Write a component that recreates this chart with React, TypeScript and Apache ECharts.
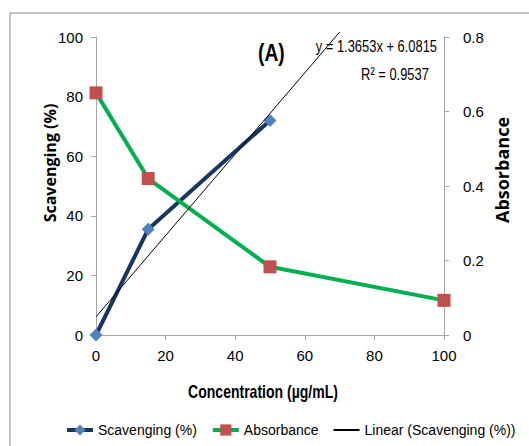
import React, { useEffect, useRef } from "react";
import * as echarts from "echarts";

const concentration = [0, 15, 50, 100];
const scavenging = [0, 35.5, 72];
const absorbance = [0.65, 0.42, 0.183, 0.093];
const trendX = [0, 70];
const trendY = [6.08, 101.65];
const xTicks = { min: 0, max: 100, interval: 20 };
const leftTicks = { min: 0, max: 100, interval: 20 };
const rightTicks = { min: 0, max: 0.8, interval: 0.2 };

const SANS = "'Liberation Sans', Arial, sans-serif";

export default function App() {
  const ref = useRef<HTMLDivElement>(null);
  useEffect(() => {
    if (!ref.current) return;
    const chart = echarts.init(ref.current, null, { renderer: "svg" });
    const axisLine = { show: true, lineStyle: { color: "#A6A6A6", width: 1 } };
    const axisTick = { show: true, inside: false, length: 5, lineStyle: { color: "#A6A6A6" } };
    const labelStyle = { color: "#000", fontFamily: SANS, fontSize: 15 };
    chart.setOption({
      animation: false,
      backgroundColor: "#fff",
      grid: { left: 96, right: 85, top: 37, bottom: 111, containLabel: false },
      xAxis: {
        type: "value",
        ...xTicks,
        axisLine,
        axisTick,
        splitLine: { show: false },
        axisLabel: { ...labelStyle, margin: 13 },
      },
      yAxis: [
        {
          type: "value",
          ...leftTicks,
          axisLine,
          axisTick,
          splitLine: { show: false },
          axisLabel: { ...labelStyle, margin: 13 },
        },
        {
          type: "value",
          ...rightTicks,
          position: "right",
          axisLine,
          axisTick,
          splitLine: { show: false },
          axisLabel: { ...labelStyle, margin: 19 },
        },
      ],
      legend: {
        bottom: 4,
        left: 60,
        itemWidth: 26,
        itemHeight: 14,
        itemGap: 14,
        textStyle: { color: "#000", fontFamily: SANS, fontSize: 14 },
        data: [
          { name: "Scavenging (%)", lineStyle: { width: 4 } },
          { name: "Absorbance", lineStyle: { width: 4 } },
          { name: "Linear (Scavenging (%))" },
        ],
      },
      graphic: [
        {
          type: "rect",
          shape: { x: 10, y: 13, width: 540, height: 460 },
          style: { fill: "none", stroke: "#888", lineWidth: 1 },
          silent: true,
        },
        {
          type: "text",
          x: 258,
          y: 53,
          scaleX: 0.8,
          style: { text: "(A)", fontFamily: SANS, fontSize: 24, fontWeight: "bold", fill: "#000", align: "left", verticalAlign: "middle" },
        },
        {
          type: "text",
          x: 437,
          y: 46,
          scaleX: 0.76,
          style: { text: "y = 1.3653x + 6.0815", fontFamily: SANS, fontSize: 17, fill: "#000", align: "right", verticalAlign: "middle" },
        },
        {
          type: "text",
          x: 395,
          y: 74,
          scaleX: 0.76,
          style: { text: "R² = 0.9537", fontFamily: SANS, fontSize: 17, fill: "#000", align: "center", verticalAlign: "middle" },
        },
        {
          type: "text",
          x: 263,
          y: 391,
          scaleX: 0.78,
          style: { text: "Concentration (µg/mL)", fontFamily: SANS, fontSize: 18, fontWeight: "bold", fill: "#000", align: "center", verticalAlign: "middle" },
        },
        {
          type: "text",
          x: 50,
          y: 163,
          rotation: Math.PI / 2,
          style: { text: "Scavenging (%)", fontFamily: "'Open Sans', sans-serif", fontSize: 16, fontWeight: "bold", fill: "#000", align: "center", verticalAlign: "middle" },
        },
        {
          type: "text",
          x: 502,
          y: 170,
          rotation: Math.PI / 2,
          style: { text: "Absorbance", fontFamily: "'Open Sans', sans-serif", fontSize: 18, fontWeight: "bold", fill: "#000", align: "center", verticalAlign: "middle" },
        },
      ],
      series: [
        {
          name: "Scavenging (%)",
          type: "line",
          yAxisIndex: 0,
          data: scavenging.map((v, i) => [concentration[i], v]),
          symbol: "diamond",
          symbolSize: 13,
          lineStyle: { color: "#17375E", width: 4 },
          itemStyle: { color: "#4F81BD" },
          z: 2,
        },
        {
          name: "Absorbance",
          type: "line",
          yAxisIndex: 1,
          data: absorbance.map((v, i) => [concentration[i], v]),
          symbol: "rect",
          symbolSize: 13,
          lineStyle: { color: "#00B050", width: 4 },
          itemStyle: { color: "#C0504D" },
          z: 3,
        },
        {
          name: "Linear (Scavenging (%))",
          type: "line",
          yAxisIndex: 0,
          data: trendX.map((x, i) => [x, trendY[i]]),
          symbol: "circle",
          showSymbol: false,
          clip: false,
          lineStyle: { color: "#000", width: 1 },
          itemStyle: { color: "rgba(0,0,0,0)" },
          z: 4,
        },
      ],
    });
    return () => chart.dispose();
  }, []);
  return <div ref={ref} style={{ width: 529, height: 446, position: "absolute", left: 0, top: 0 }} />;
}
